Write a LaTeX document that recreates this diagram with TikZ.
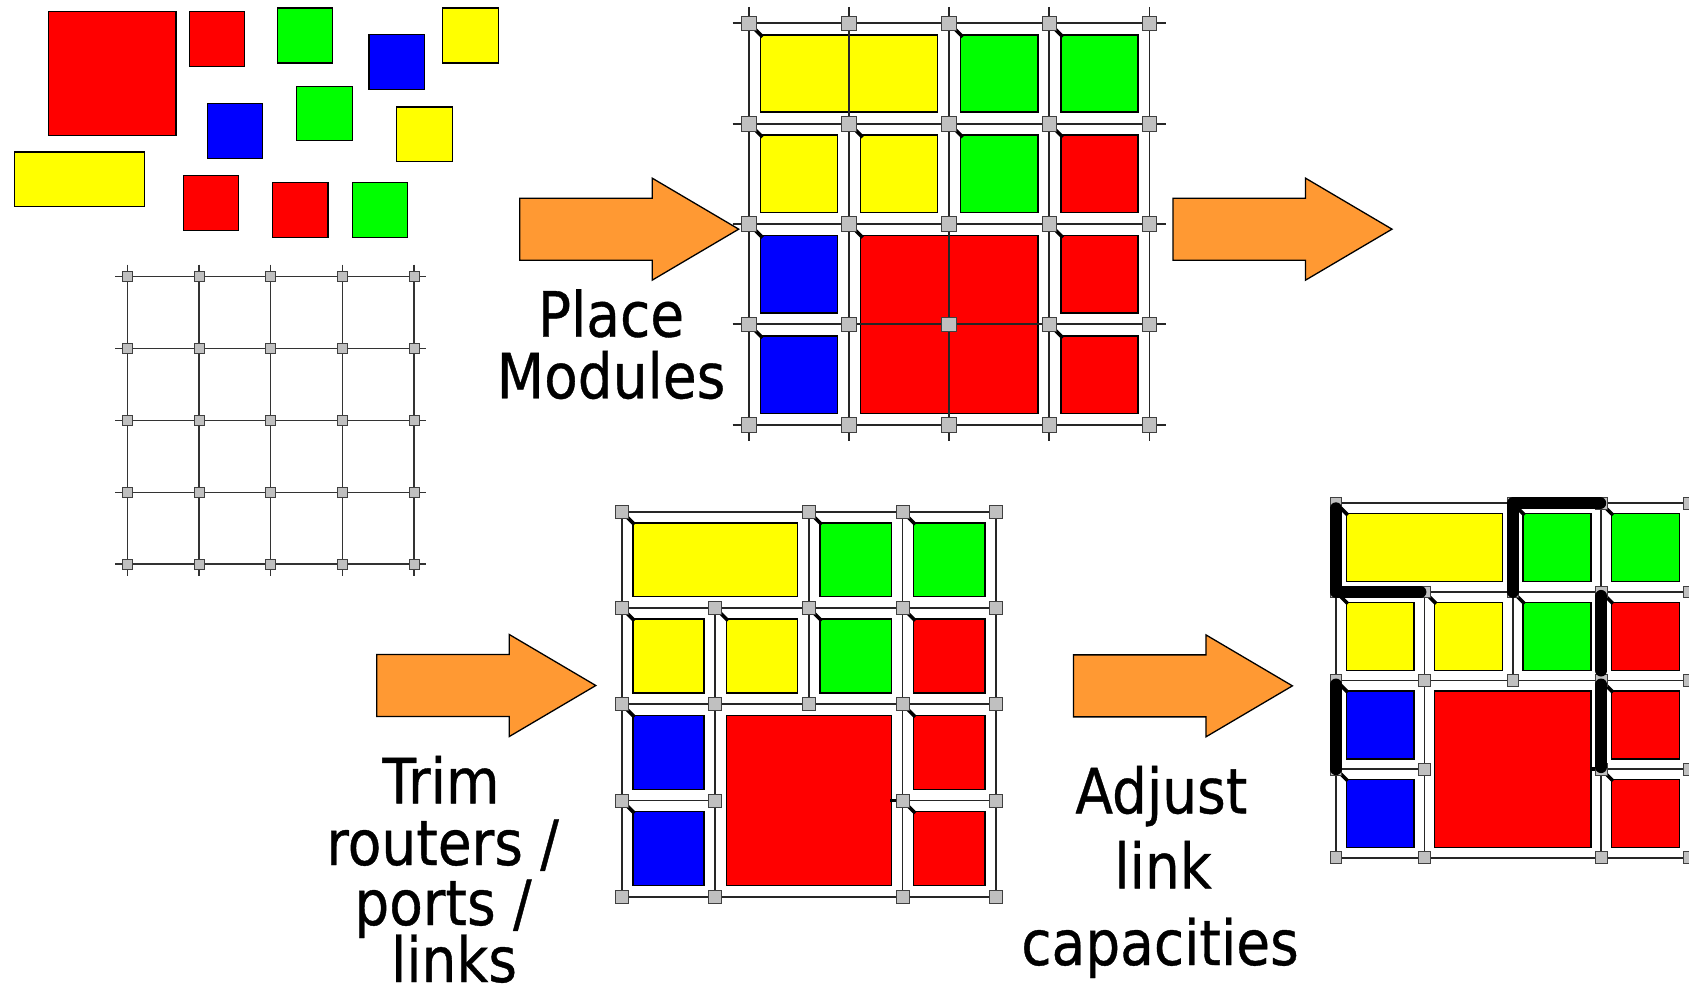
\documentclass[tikz,border=0pt]{standalone}
\usepackage{fontspec}
\newfontfamily\labelfont{DejaVu Sans}[FakeStretch=0.88, FakeBold=0.6]
\usetikzlibrary{calc}

\definecolor{modred}{RGB}{255,0,0}
\definecolor{modgreen}{RGB}{0,255,0}
\definecolor{modblue}{RGB}{0,0,255}
\definecolor{modyellow}{RGB}{255,255,0}
\definecolor{routergray}{RGB}{192,192,192}
\definecolor{arroworange}{RGB}{255,153,51}

\tikzset{
  module/.style={draw=black, line width=0.7pt},
  link/.style={draw=black!85, line width=0.9pt},
  thinlink/.style={draw=black!80, line width=0.7pt},
  port/.style={draw=black, line width=1.8pt},
  fatlink/.style={draw=black, line width=6pt, line cap=round, line join=round},
  router/.style={draw=black!75, fill=routergray, line width=0.45pt, inner sep=0pt, minimum size=#1},
  router/.default=6pt,
  blockarrow/.style={draw=black, fill=arroworange, line width=0.65pt, line join=miter},
  caption/.style={font=\labelfont\fontsize{31.25pt}{31pt}\selectfont, anchor=base, inner sep=0pt},
  pics/flowarrow/.style={code={
    \draw[blockarrow] (0,-31) -- (132.5,-31) -- (132.5,-51) -- (219,0)
      -- (132.5,51) -- (132.5,31) -- (0,31) -- cycle;}},
}

% module filling the cells between two grid points, inset by a margin
\newcommand\cellmodule[5]{%
  \draw[module, fill=#4] ($(#1-#2)+(#5,#5)$) rectangle ($(#1-#3)+(-#5,-#5)$);}
% the twelve placed modules of a 4x4 mesh
\newcommand\meshmodules[2]{%
  \cellmodule{#1}{1-1}{3-2}{modyellow}{#2}
  \cellmodule{#1}{3-1}{4-2}{modgreen}{#2}
  \cellmodule{#1}{4-1}{5-2}{modgreen}{#2}
  \cellmodule{#1}{1-2}{2-3}{modyellow}{#2}
  \cellmodule{#1}{2-2}{3-3}{modyellow}{#2}
  \cellmodule{#1}{3-2}{4-3}{modgreen}{#2}
  \cellmodule{#1}{4-2}{5-3}{modred}{#2}
  \cellmodule{#1}{1-3}{2-4}{modblue}{#2}
  \cellmodule{#1}{2-3}{4-5}{modred}{#2}
  \cellmodule{#1}{4-3}{5-4}{modred}{#2}
  \cellmodule{#1}{1-4}{2-5}{modblue}{#2}
  \cellmodule{#1}{4-4}{5-5}{modred}{#2}}
% links that survive trimming
\newcommand\trimmedlinks[1]{%
  \draw[link] (#1-1-1) -- (#1-5-1);
  \draw[link] (#1-1-2) -- (#1-5-2);
  \draw[link] (#1-1-3) -- (#1-5-3);
  \draw[link] (#1-1-4) -- (#1-2-4);
  \draw[link] (#1-4-4) -- (#1-5-4);
  \draw[link] (#1-1-5) -- (#1-5-5);
  \draw[link] (#1-1-1) -- (#1-1-5);
  \draw[link] (#1-2-2) -- (#1-2-5);
  \draw[link] (#1-3-1) -- (#1-3-3);
  \draw[link] (#1-4-1) -- (#1-4-5);
  \draw[link] (#1-5-1) -- (#1-5-5);}
% ports of the trimmed mesh
\newcommand\trimmedports[2]{%
  \foreach \p in {1-1,3-1,4-1,1-2,2-2,3-2,4-2,1-3,4-3,1-4,4-4}
    \draw[port] (#1-\p) -- ++(#2+1.5,#2+1.5);
  \draw[port] (#1-4-4) -- ++(-#2-1,0);}
% routers that survive trimming
\newcommand\trimmedrouters[2]{%
  \foreach \p in {1-1,3-1,4-1,5-1,1-2,2-2,3-2,4-2,5-2,1-3,2-3,3-3,4-3,5-3,1-4,2-4,4-4,5-4,1-5,2-5,4-5,5-5}
    \node[router=#2] (#1r-\p) at (#1-\p) {};}

\begin{document}
\begin{tikzpicture}[x=0.5pt, y=-0.5pt]
\useasboundingbox (0,0) rectangle (1689,991);
\clip (0,0) rectangle (1689,991);

% ---------- loose modules ----------
\draw[module, fill=modred]    (48.3,11.3)  rectangle (176,135.7);
\draw[module, fill=modred]    (189.3,11.3) rectangle (244.7,66.7);
\draw[module, fill=modgreen]  (277.3,8)    rectangle (332.7,63);
\draw[module, fill=modblue]   (369,34.3)   rectangle (424.7,89.3);
\draw[module, fill=modyellow] (442.7,8)    rectangle (498.3,63);
\draw[module, fill=modblue]   (207.3,103.7) rectangle (262.7,158.3);
\draw[module, fill=modgreen]  (296.7,86.3) rectangle (352.3,140.7);
\draw[module, fill=modyellow] (396.7,107)  rectangle (452.3,161.7);
\draw[module, fill=modyellow] (14.3,152)   rectangle (144.7,206.7);
\draw[module, fill=modred]    (183.3,175.7) rectangle (238.7,230.7);
\draw[module, fill=modred]    (272.7,182.7) rectangle (328,237.7);
\draw[module, fill=modgreen]  (352.3,182.7) rectangle (407.7,237.7);

% ---------- empty 5x5 mesh ----------
\foreach \i in {1,...,5} \foreach \j in {1,...,5}
  \coordinate (E-\i-\j) at ({127.3+(\i-1)*71.7},{276.7+(\j-1)*71.83});
\foreach \k in {1,...,5} {
  \draw[thinlink] ($(E-1-\k)+(-12,0)$) -- ($(E-5-\k)+(12,0)$);
  \draw[thinlink] ($(E-\k-1)+(0,-12)$) -- ($(E-\k-5)+(0,12)$);
}
\foreach \i in {1,...,5} \foreach \j in {1,...,5}
  \node[router=5pt] (Er-\i-\j) at (E-\i-\j) {};

% ---------- mesh with placed modules ----------
\foreach \i in {1,...,5} \foreach \j in {1,...,5}
  \coordinate (P-\i-\j) at ({749+(\i-1)*100.1},{23.3+(\j-1)*100.35});
\meshmodules{P}{11.5}
\foreach \k in {1,...,5} {
  \draw[link] ($(P-1-\k)+(-16.5,0)$) -- ($(P-5-\k)+(16.5,0)$);
  \draw[link] ($(P-\k-1)+(0,-16.5)$) -- ($(P-\k-5)+(0,16.5)$);
}
\foreach \p in {1-1,3-1,4-1,1-2,2-2,3-2,4-2,1-3,2-3,4-3,1-4,4-4}
  \draw[port] (P-\p) -- ++(13.5,13.5);
\foreach \i in {1,...,5} \foreach \j in {1,...,5}
  \node[router=7.35pt] (Pr-\i-\j) at (P-\i-\j) {};

% ---------- trimmed mesh ----------
\foreach \i in {1,...,5} \foreach \j in {1,...,5}
  \coordinate (T-\i-\j) at ({621.7+(\i-1)*93.6},{511.7+(\j-1)*96.25});
\meshmodules{T}{11.2}
\trimmedlinks{T}
\trimmedports{T}{11.2}
\trimmedrouters{T}{6.5pt}

% ---------- mesh with adjusted link capacities ----------
\foreach \i in {1,...,5} \foreach \j in {1,...,5}
  \coordinate (R-\i-\j) at ({1336+(\i-1)*88.4},{503.3+(\j-1)*88.6});
\meshmodules{R}{10.3}
\trimmedlinks{R}
\trimmedports{R}{10.3}
\trimmedrouters{R}{5.85pt}
\draw[fatlink, shorten <=2.5pt, shorten >=2pt] (R-1-1) -- (R-1-2) -- (R-2-2);
\draw[fatlink, shorten <=0pt, shorten >=0.5pt] (R-3-2) -- (R-3-1) -- (R-4-1);
\draw[fatlink, shorten <=2pt, shorten >=5pt] (R-4-2) -- (R-4-3);
\draw[fatlink, shorten <=2pt, shorten >=1pt] (R-4-3) -- (R-4-4);
\draw[fatlink, shorten <=2pt, shorten >=0pt] (R-1-3) -- (R-1-4);

% ---------- process arrows ----------
\pic (arrowA) at (519.7,229.15) {flowarrow};
\pic (arrowB) at (1173,229.15) {flowarrow};
\pic (arrowC) at (376.8,685.5) {flowarrow};
\pic (arrowD) at (1073.4,685.85) {flowarrow};

% ---------- step captions ----------
\node[caption] (place)   at (611,336.7)   {Place};
\node[caption] (modules) at (611,398.3)   {Modules};
\node[caption] (trim)    at (441,803.3)   {Trim};
\node[caption] (routers) at (442.6,865)   {routers /};
\node[caption] (ports)   at (443,925)     {ports /};
\node[caption] (links)   at (454,982)     {links};
\node[caption] (adjust)  at (1161.3,813.3) {Adjust};
\node[caption] (linkw)   at (1163,888.3)  {link};
\node[caption] (capac)   at (1160,965)    {capacities};
\end{tikzpicture}
\end{document}
